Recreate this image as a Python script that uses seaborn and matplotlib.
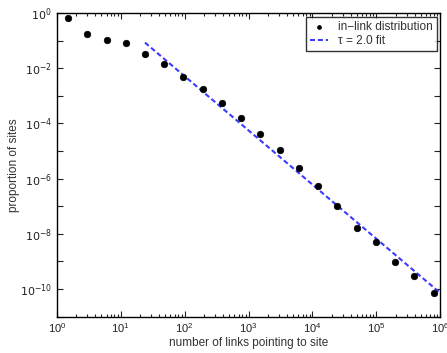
import numpy as np
import pandas as pd
import seaborn as sns
import matplotlib
matplotlib.use("Agg")
import matplotlib.pyplot as plt
from matplotlib.ticker import LogLocator, FixedLocator, FuncFormatter, NullFormatter

# Data
links = [1.5, 3, 6, 12, 24, 48, 96, 192, 384, 768, 1536, 3072, 6144, 12288,
         24576, 49152, 98304, 196608, 393216, 786432]
proportion = [0.68, 0.17, 0.105, 0.08, 0.034, 0.0139, 0.0049, 0.00173, 5.6e-4,
              1.6e-4, 4.2e-5, 1.1e-5, 2.5e-6, 5.5e-7, 1.05e-7, 1.66e-8, 5.2e-9,
              9.8e-10, 3.0e-10, 7.2e-11]
fit_x = [24, 1e6]
fit_y = [0.085, 7.2e-11]

points = pd.DataFrame({"links": links, "proportion": proportion})
fit = pd.DataFrame({"links": fit_x, "proportion": fit_y})

sns.set_style("ticks")
plt.rcParams['font.family'] = ['Liberation Sans', 'DejaVu Sans']
plt.rcParams['axes.unicode_minus'] = True

fig = plt.figure(figsize=(4.47, 3.53), dpi=100)
ax = fig.add_axes([0.127, 0.103, 0.858, 0.860])

sns.scatterplot(data=points, x="links", y="proportion", ax=ax, color="black",
                s=22, edgecolor="black", linewidth=0.5, zorder=3,
                label="in\u2212link distribution")
sns.lineplot(data=fit, x="links", y="proportion", ax=ax, color="#3b3bff",
             linestyle=(0, (2.4, 1.4)), linewidth=1.5, zorder=2,
             label="\u03c4 = 2.0 fit")

ax.set_xscale("log")
ax.set_yscale("log")
ax.set_xlim(1, 1e6)
ax.set_ylim(1e-11, 1)

ax.xaxis.set_major_locator(LogLocator(base=10, numticks=20))
ax.xaxis.set_minor_locator(LogLocator(base=10, subs=np.arange(2, 10), numticks=100))
ax.xaxis.set_minor_formatter(NullFormatter())

ax.yaxis.set_major_locator(FixedLocator([10.0 ** k for k in range(-11, 1)]))
ax.yaxis.set_minor_locator(FixedLocator([]))

def yfmt(v, pos):
    e = int(round(np.log10(v)))
    if e % 2 == 0:
        return r"$10^{%d}$" % e
    return ""
ax.yaxis.set_major_formatter(FuncFormatter(yfmt))

ax.tick_params(which="both", direction="in", top=True, right=True,
               labelsize=8, colors="#222222", width=0.8)
ax.tick_params(which="major", length=4)
ax.tick_params(which="minor", length=2.5)
for s in ax.spines.values():
    s.set_linewidth(1.0)
    s.set_color("black")

ax.set_xlabel("number of links pointing to site", fontsize=8.5, color="#333333", labelpad=1)
ax.set_ylabel("proportion of sites", fontsize=8.5, color="#333333", labelpad=0)

leg = ax.legend(loc="upper right", fontsize=8.6, frameon=True, fancybox=False,
                borderaxespad=0.3, handlelength=1.5, handletextpad=0.8,
                borderpad=0.35, labelspacing=0.2, edgecolor="black",
                markerscale=0.6)
leg.get_frame().set_linewidth(1.0)
for t in leg.get_texts():
    t.set_color("#333333")

fig.savefig("out.png", dpi=100)
